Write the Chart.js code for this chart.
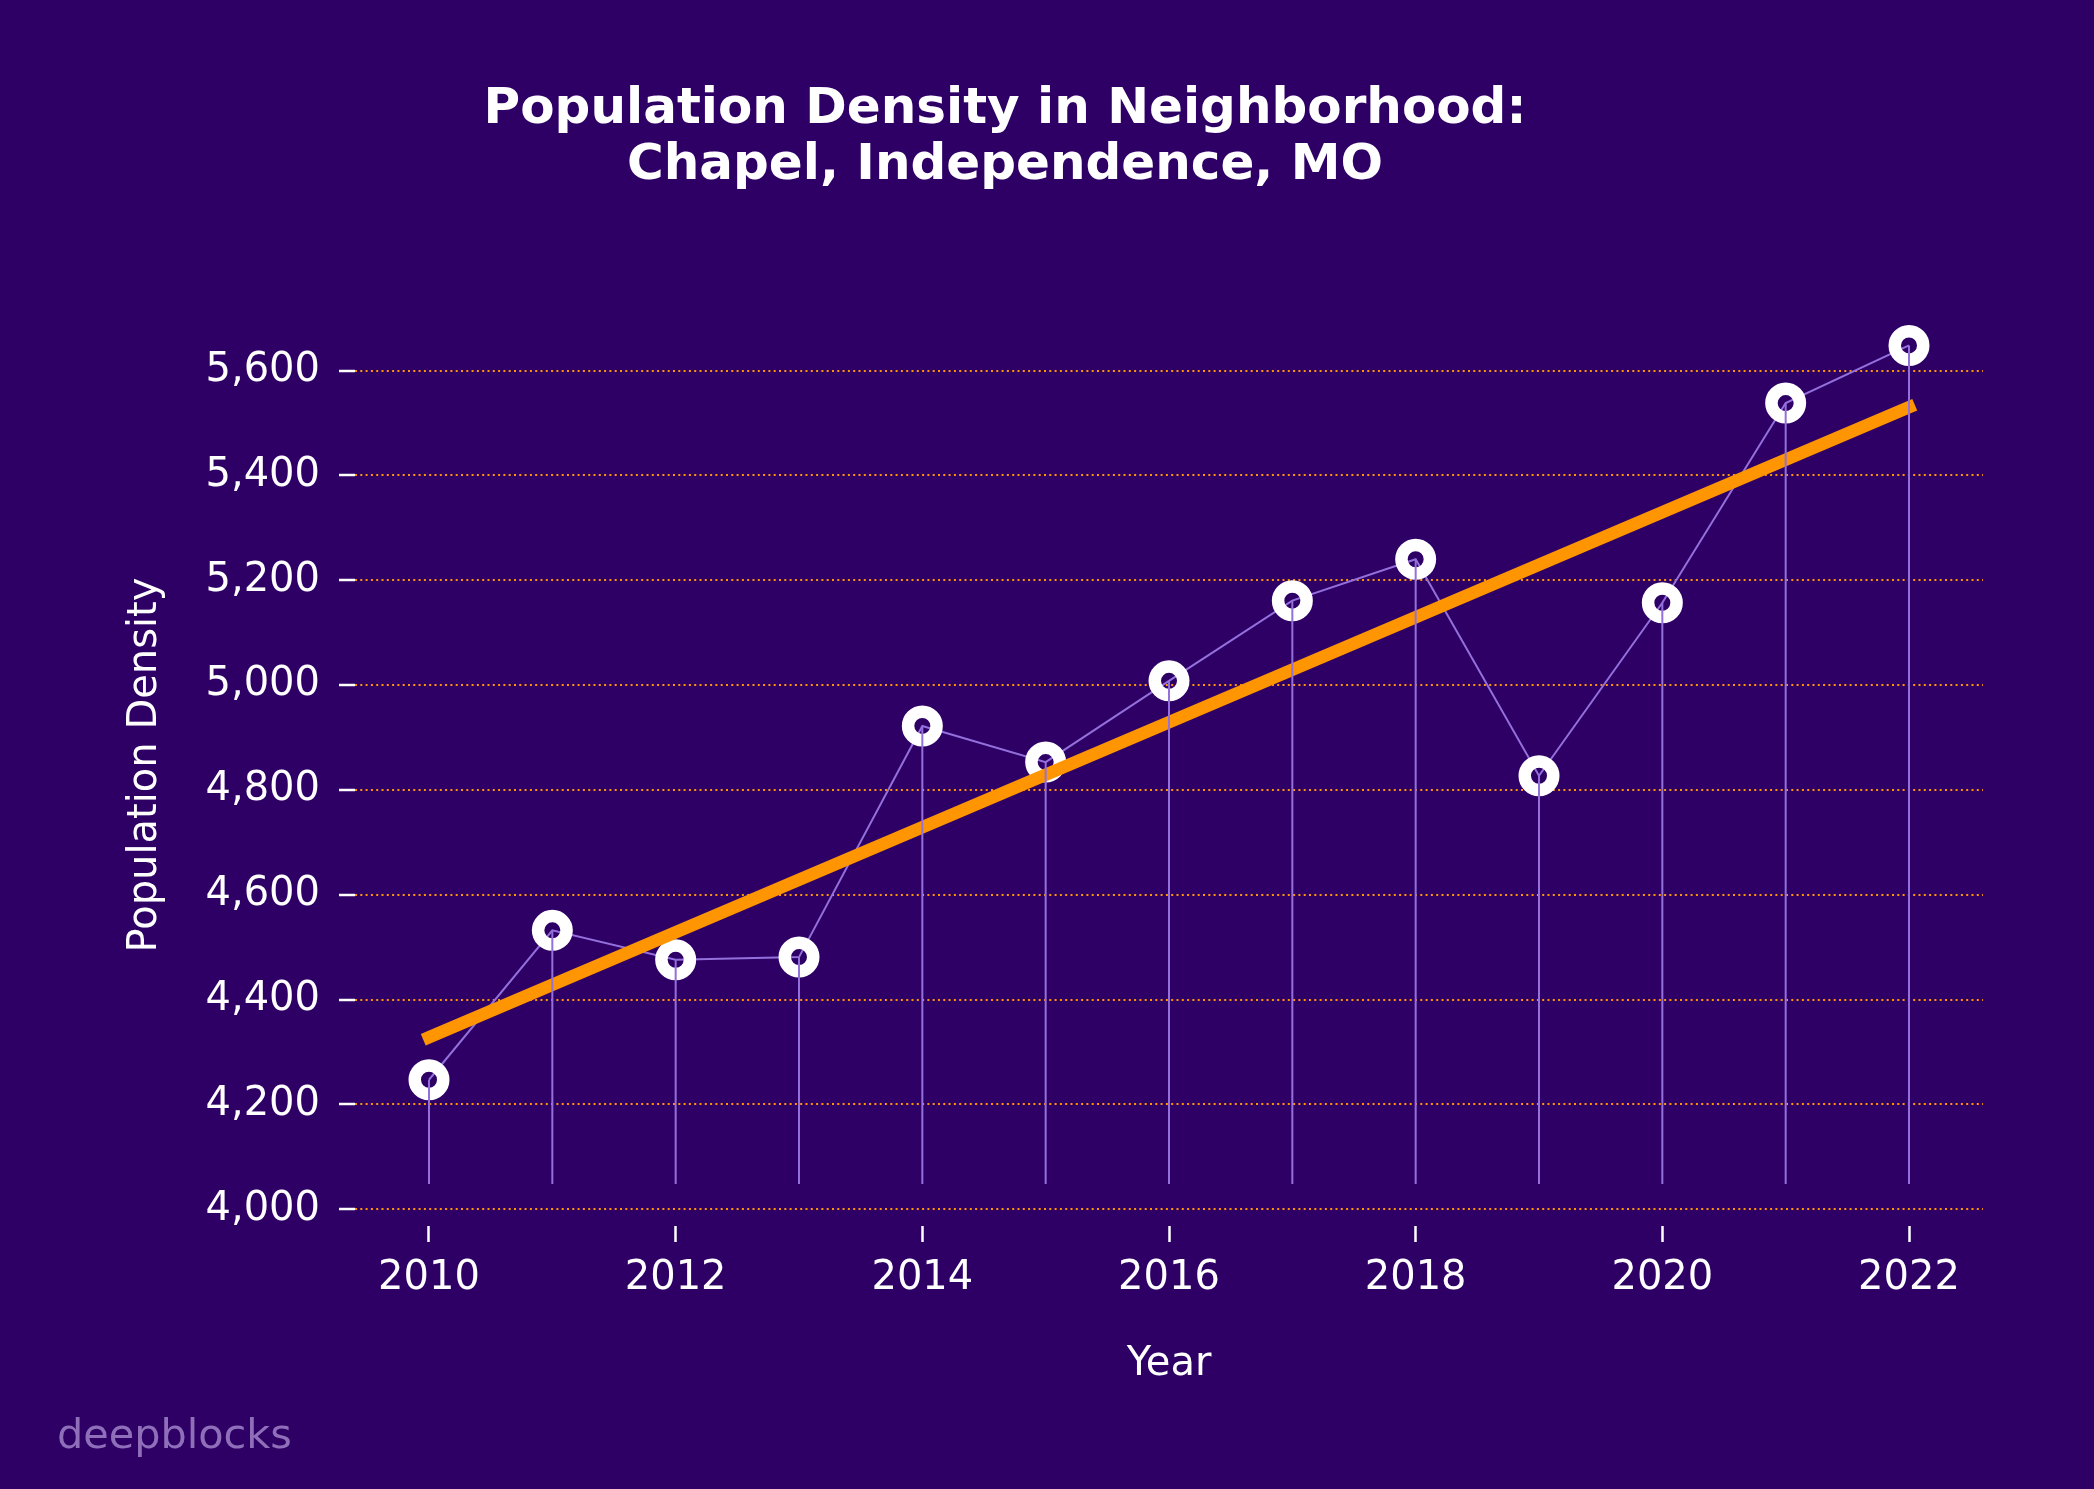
<!DOCTYPE html>
<html>
<head>
<meta charset="utf-8">
<script src="https://cdn.jsdelivr.net/npm/chart.js@4/dist/chart.umd.min.js"></script>
<style>
  html, body { margin: 0; padding: 0; background: #2e0066; }
  canvas { display: block; }
</style>
</head>
<body>
<canvas id="c" width="2094" height="1489"></canvas>
<script>
const years = [2010, 2011, 2012, 2013, 2014, 2015, 2016, 2017, 2018, 2019, 2020, 2021, 2022];
const density = [4247, 4532, 4476, 4481, 4922, 4853, 5008, 5161, 5240, 4827, 5157, 5538, 5648];
const trendYears = [2010, 2022];
const trendValues = [4328, 5530];
const stemBase = 4048;
const yTicks = [4000, 4200, 4400, 4600, 4800, 5000, 5200, 5400, 5600];
const xTicks = [2010, 2012, 2014, 2016, 2018, 2020, 2022];
const titleLines = ['Population Density in Neighborhood:', 'Chapel, Independence, MO'];
const xTitle = 'Year';
const yTitle = 'Population Density';
const watermark = 'deepblocks';

const BG = '#2e0066';
const LAV = '#9370db';
const ORANGE = '#ff9500';
const FONT = "'DejaVu Sans', sans-serif";

const points = years.map((y, i) => ({ x: y, y: density[i] }));
const stems = [];
years.forEach((y, i) => {
  stems.push({ x: y, y: stemBase });
  stems.push({ x: y, y: density[i] });
  stems.push({ x: y, y: null });
});
const trend = trendYears.map((y, i) => ({ x: y, y: trendValues[i] }));

const textPlugin = {
  id: 'texts',
  afterDraw(chart) {
    const ctx = chart.ctx;
    ctx.save();
    ctx.fillStyle = '#ffffff';
    ctx.textAlign = 'center';
    ctx.textBaseline = 'middle';
    ctx.font = "bold 50px " + FONT;
    ctx.fillText(titleLines[0], 1005, 110);
    ctx.fillText(titleLines[1], 1005, 166);
    ctx.textAlign = 'left';
    ctx.font = "41.4px " + FONT;
    ctx.fillStyle = 'rgba(160, 130, 200, 0.85)';
    ctx.fillText(watermark, 57, 1437);
    ctx.restore();
  }
};

new Chart(document.getElementById('c'), {
  type: 'scatter',
  data: {
    datasets: [
      { data: points, showLine: true, borderColor: LAV, borderWidth: 2, pointRadius: 0, order: 4, clip: false },
      { data: points, showLine: false, pointRadius: 14.25, pointBorderWidth: 12.5,
        pointBackgroundColor: 'rgba(0,0,0,0)', pointBorderColor: '#ffffff', order: 3, clip: false },
      { data: trend, showLine: true, borderColor: ORANGE, borderWidth: 12.5, borderCapStyle: 'square',
        pointRadius: 0, order: 2, clip: false },
      { data: stems, showLine: true, spanGaps: false, borderColor: LAV, borderWidth: 2,
        pointRadius: 0, order: 1, clip: false }
    ]
  },
  options: {
    responsive: false,
    animation: false,
    events: [],
    layout: { padding: { left: 0, right: 111, top: 304, bottom: 0 } },
    plugins: { legend: { display: false }, tooltip: { enabled: false }, title: { display: false } },
    scales: {
      x: {
        type: 'linear',
        min: 2009.4,
        max: 2022.6,
        afterFit(s) { s.height = 263; },
        afterBuildTicks(s) { s.ticks = xTicks.map(v => ({ value: v })); },
        border: { display: false },
        grid: { drawOnChartArea: false, drawTicks: true, tickLength: 16, tickWidth: 2.5, tickColor: '#ffffff', color: 'rgba(0,0,0,0)' },
        ticks: { color: '#ffffff', font: { family: FONT, size: 40 }, padding: 13, maxRotation: 0, autoSkip: false,
                 callback: v => String(v) },
        title: { display: true, text: xTitle, color: '#ffffff', font: { family: FONT, size: 40 }, padding: { top: 0, bottom: 100 } }
      },
      y: {
        type: 'linear',
        min: 3968,
        max: 5727,
        afterFit(s) { s.width = 355; },
        afterBuildTicks(s) { s.ticks = yTicks.map(v => ({ value: v })); },
        border: { display: false, dash: [2, 3.3] },
        grid: { color: ORANGE, lineWidth: 2, drawTicks: true, tickLength: 16, tickWidth: 2.5, tickColor: '#ffffff' },
        ticks: { color: '#ffffff', font: { family: FONT, size: 40 }, padding: 19, autoSkip: false,
                 callback: v => v.toLocaleString('en-US') },
        title: { display: true, text: yTitle, color: '#ffffff', font: { family: FONT, size: 40 }, padding: { top: 122, bottom: 0 } }
      }
    }
  },
  plugins: [textPlugin]
});
</script>
</body>
</html>
